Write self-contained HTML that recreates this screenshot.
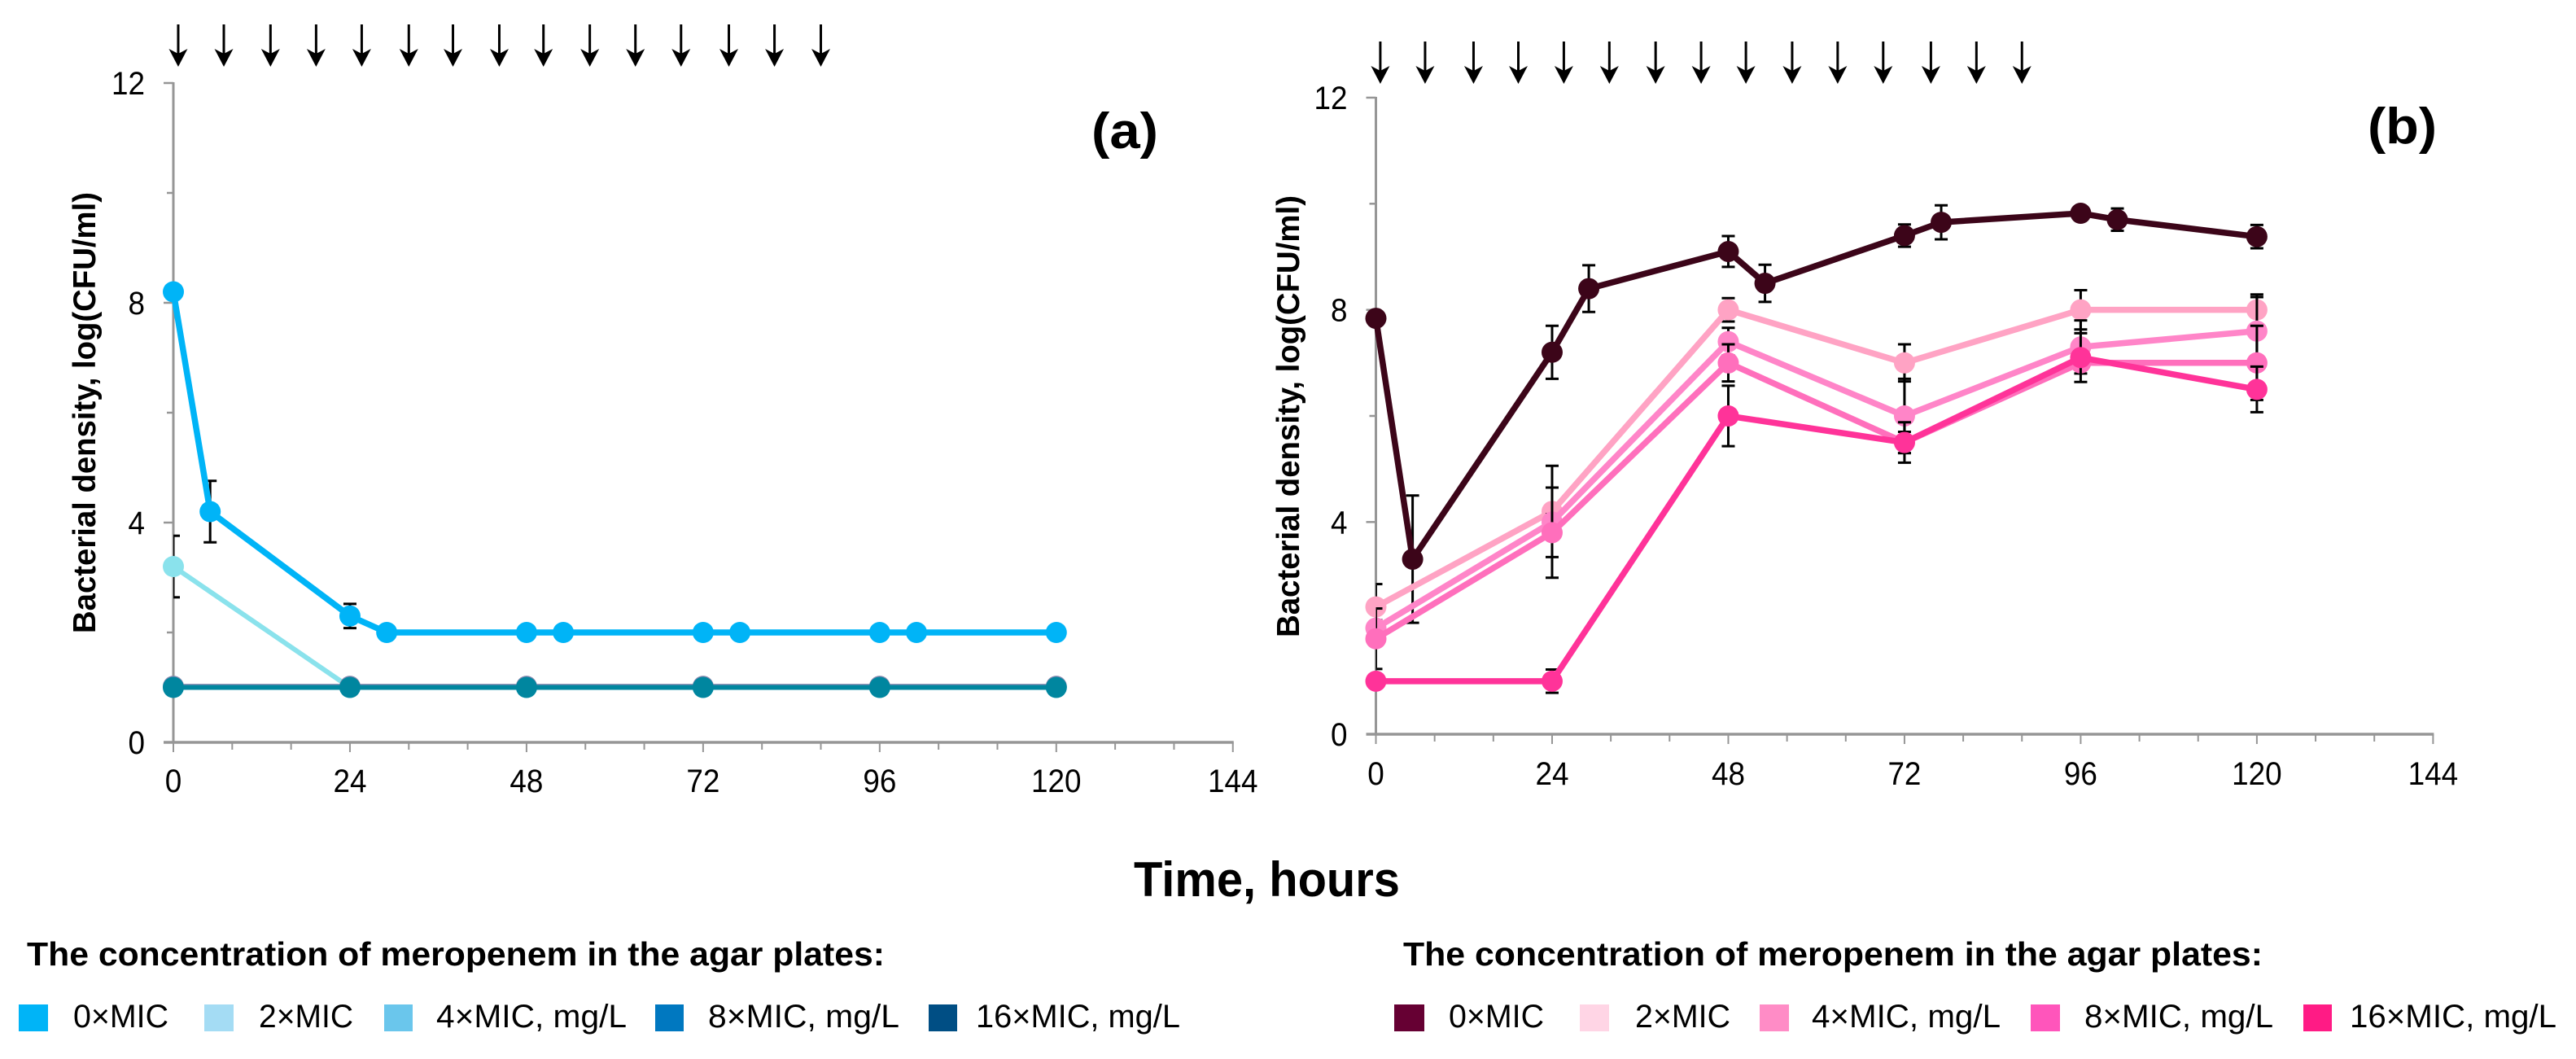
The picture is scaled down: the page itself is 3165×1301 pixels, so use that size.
<!DOCTYPE html>
<html lang="en">
<head>
<meta charset="utf-8">
<title>Bacterial density over time</title>
<style>
html,body{margin:0;padding:0;background:#fff;}
svg{display:block;}
text{font-family:"Liberation Sans",sans-serif;fill:#000;}
.b{font-weight:bold;}
</style>
</head>
<body>
<svg id="figure" xmlns="http://www.w3.org/2000/svg" width="3165" height="1301" viewBox="0 0 3165 1301">
  <rect width="3165" height="1301" fill="#fff"/>
  <g id="panel-a"></g>
  <g id="panel-b"></g>

  <text class="b" x="1341" y="182" font-size="62" textLength="82" lengthAdjust="spacingAndGlyphs">(a)</text>
  <text class="b" x="2909" y="176" font-size="62" textLength="85" lengthAdjust="spacingAndGlyphs">(b)</text>

  <text class="b" transform="translate(117,507) rotate(-90)" text-anchor="middle" font-size="39" textLength="542" lengthAdjust="spacingAndGlyphs">Bacterial density, log(CFU/ml)</text>
  <text class="b" transform="translate(1596,511.5) rotate(-90)" text-anchor="middle" font-size="39" textLength="543" lengthAdjust="spacingAndGlyphs">Bacterial density, log(CFU/ml)</text>

  <text class="b" x="1393" y="1101" font-size="60" textLength="327" lengthAdjust="spacingAndGlyphs">Time, hours</text>

  <g>
    <text class="b" x="33" y="1186" font-size="41" textLength="1054" lengthAdjust="spacingAndGlyphs">The concentration of meropenem in the agar plates:</text>
    <rect x="23" y="1234" width="36" height="33" fill="#00b4f7"/>
    <text x="90" y="1262" font-size="40" textLength="117" lengthAdjust="spacingAndGlyphs">0×MIC</text>
    <rect x="251" y="1234" width="36" height="33" fill="#a4dcf4"/>
    <text x="318" y="1262" font-size="40" textLength="116" lengthAdjust="spacingAndGlyphs">2×MIC</text>
    <rect x="472" y="1234" width="35" height="33" fill="#6ac6ec"/>
    <text x="536" y="1262" font-size="40" textLength="234" lengthAdjust="spacingAndGlyphs">4×MIC, mg/L</text>
    <rect x="805" y="1234" width="35" height="33" fill="#0078c0"/>
    <text x="870" y="1262" font-size="40" textLength="235" lengthAdjust="spacingAndGlyphs">8×MIC, mg/L</text>
    <rect x="1141" y="1234" width="35" height="33" fill="#004e84"/>
    <text x="1199" y="1262" font-size="40" textLength="251" lengthAdjust="spacingAndGlyphs">16×MIC, mg/L</text>
  </g>

  <g>
    <text class="b" x="1724" y="1186" font-size="41" textLength="1056" lengthAdjust="spacingAndGlyphs">The concentration of meropenem in the agar plates:</text>
    <rect x="1713" y="1234" width="37" height="33" fill="#660033"/>
    <text x="1780" y="1262" font-size="40" textLength="117" lengthAdjust="spacingAndGlyphs">0×MIC</text>
    <rect x="1941" y="1234" width="36" height="33" fill="#ffd5e5"/>
    <text x="2009" y="1262" font-size="40" textLength="117" lengthAdjust="spacingAndGlyphs">2×MIC</text>
    <rect x="2162" y="1234" width="36" height="33" fill="#ff8cc6"/>
    <text x="2226" y="1262" font-size="40" textLength="232" lengthAdjust="spacingAndGlyphs">4×MIC, mg/L</text>
    <rect x="2495" y="1234" width="36" height="33" fill="#ff55bb"/>
    <text x="2561" y="1262" font-size="40" textLength="232" lengthAdjust="spacingAndGlyphs">8×MIC, mg/L</text>
    <rect x="2830" y="1234" width="35" height="33" fill="#ff1b85"/>
    <text x="2887" y="1262" font-size="40" textLength="254" lengthAdjust="spacingAndGlyphs">16×MIC, mg/L</text>
  </g>
</svg>

<script>
// ---- Shared axis data ----
const yTickValues = [0, 2, 4, 6, 8, 10, 12];
const yTickLabels = ["0", "", "4", "", "8", "", "12"];
const xTickValues = [0, 8, 16, 24, 32, 40, 48, 56, 64, 72, 80, 88, 96, 104, 112, 120, 128, 136, 144];
const xTickLabels = ["0", "", "", "24", "", "", "48", "", "", "72", "", "", "96", "", "", "120", "", "", "144"];

// ---- Time points (hours) ----
const hoursFull = [0, 5, 24, 29, 48, 53, 72, 77, 96, 101, 120];
const hoursDaily = [0, 24, 48, 72, 96, 120];

// ---- Dosing arrows (hours) ----
const arrowHoursA = [0.66, 6.86, 13.2, 19.4, 25.6, 32, 38, 44.3, 50.3, 56.6, 62.8, 69, 75.5, 81.7, 88];
const arrowHoursB = [0.6, 6.7, 13.3, 19.4, 25.6, 31.8, 38.1, 44.3, 50.4, 56.7, 62.9, 69.1, 75.6, 81.8, 88];

// ---- Panel (a) series ----
const a0xValues = [8.2, 4.2, 2.3, 2, 2, 2, 2, 2, 2, 2, 2];
const a0xErrors = [0.1, 0.56, 0.22, 0, 0, 0, 0, 0, 0, 0, 0];
const a2xValues = [3.2, 1, 1, 1, 1, 1];
const a2xErrors = [0.56, 0, 0, 0, 0, 0];
const a8xValues = [1.02, 1.02, 1.02, 1.02, 1.02, 1.02];
const a8xErrors = [0, 0, 0, 0, 0, 0];
const a16xValues = [1, 1, 1, 1, 1, 1];
const a16xErrors = [0, 0, 0, 0, 0, 0];

// ---- Panel (b) series ----
const b0xValues = [7.84, 3.3, 7.2, 8.4, 9.1, 8.5, 9.4, 9.65, 9.82, 9.7, 9.38];
const b0xErrors = [0.1, 1.2, 0.5, 0.44, 0.29, 0.35, 0.21, 0.32, 0.12, 0.21, 0.22];
const b2xValues = [2.4, 4.2, 8, 7, 8, 8];
const b2xErrors = [0.43, 0.86, 0.22, 0.35, 0.37, 0.29];
const b4xValues = [2, 4, 7.4, 6, 7.3, 7.6];
const b4xErrors = [0.15, 0.15, 0.26, 0.7, 0.5, 0.64];
const b8xValues = [1.8, 3.8, 7, 5.5, 7, 7];
const b8xErrors = [0.57, 0.85, 0.35, 0.2, 0.1, 0.7];
const b16xValues = [1, 1, 6, 5.5, 7.1, 6.5];
const b16xErrors = [0.1, 0.22, 0.57, 0.38, 0.46, 0.43];

const SVGNS = "http://www.w3.org/2000/svg";

function mk(parent, tag, attrs, name) {
  const el = document.createElementNS(SVGNS, tag);
  for (const k in attrs) el.setAttribute(k, attrs[k]);
  
  
  parent.appendChild(el);
  return el;
}

function drawPanel(cfg) {
  const root = document.getElementById(cfg.id);
  const xScale = h => cfg.x0 + h * cfg.xPerHour;
  const yScale = v => cfg.y0 - v * cfg.yPerUnit;
  const axisColor = "#969696";
  const digitWidth = 20.5;

  // axes
  const axes = mk(root, "g", {}, cfg.prefix + "-axes");
  mk(axes, "line", {x1: cfg.x0, x2: cfg.x0, y1: yScale(12) - 1, y2: cfg.y0, stroke: axisColor, "stroke-width": 3}, cfg.prefix + "-y-axis-line");
  mk(axes, "line", {x1: cfg.x0 - 12, x2: xScale(144) + 1, y1: cfg.y0, y2: cfg.y0, stroke: axisColor, "stroke-width": 3.5}, cfg.prefix + "-x-axis-line");

  yTickValues.forEach((v, i) => {
    const major = yTickLabels[i] !== "";
    const len = major ? 12 : 8;
    if (v !== 0) {
      mk(axes, "line", {x1: cfg.x0 - len, x2: cfg.x0, y1: yScale(v), y2: yScale(v), stroke: axisColor, "stroke-width": 2.5}, cfg.prefix + "-y-tick");
    }
    if (major) {
      const t = mk(axes, "text", {x: cfg.x0 - 35, y: yScale(v) + 14, "text-anchor": "end", "font-size": 40, textLength: digitWidth * yTickLabels[i].length, lengthAdjust: "spacingAndGlyphs"}, cfg.prefix + "-y-tick-label");
      t.textContent = yTickLabels[i];
    }
  });

  xTickValues.forEach((h, i) => {
    const major = xTickLabels[i] !== "";
    mk(axes, "line", {x1: xScale(h), x2: xScale(h), y1: cfg.y0, y2: cfg.y0 + (major ? 12 : 9), stroke: axisColor, "stroke-width": 2}, cfg.prefix + "-x-tick");
    if (major) {
      const t = mk(axes, "text", {x: xScale(h), y: cfg.xLabelY, "text-anchor": "middle", "font-size": 40, textLength: digitWidth * xTickLabels[i].length, lengthAdjust: "spacingAndGlyphs"}, cfg.prefix + "-x-tick-label");
      t.textContent = xTickLabels[i];
    }
  });

  // dosing arrows
  const arrows = mk(root, "g", {}, cfg.prefix + "-dosing-arrows");
  cfg.arrows.forEach(h => {
    const x = xScale(h);
    const top = cfg.arrowTop;
    const tip = top + 52;
    const a = mk(arrows, "g", {}, cfg.prefix + "-dosing-arrow");
    mk(a, "line", {x1: x, x2: x, y1: top, y2: tip - 14, stroke: "#000", "stroke-width": 3}, "arrow-shaft");
    mk(a, "path", {d: "M" + x + " " + tip + "L" + (x - 11.5) + " " + (tip - 22) + "L" + x + " " + (tip - 16) + "L" + (x + 11.5) + " " + (tip - 22) + "Z", fill: "#000"}, "arrow-head");
  });

  // clip so error bars at t=0 only show right of the axis
  const clipId = cfg.prefix + "-clip";
  const defs = mk(root, "defs", {}, cfg.prefix + "-defs");
  const clip = mk(defs, "clipPath", {id: clipId}, cfg.prefix + "-clip-path");
  mk(clip, "rect", {x: cfg.x0, y: 0, width: 1500, height: 1000}, cfg.prefix + "-clip-rect");

  // series
  cfg.series.forEach(s => {
    const g = mk(root, "g", {}, cfg.prefix + "-series-" + s.key);
    const errG = mk(g, "g", {"clip-path": "url(#" + clipId + ")"}, cfg.prefix + "-error-bars-" + s.key);
    s.hours.forEach((h, i) => {
      const e = s.errors[i];
      if (!e) return;
      const x = xScale(h);
      const yt = yScale(s.values[i] + e);
      const yb = yScale(s.values[i] - e);
      mk(errG, "line", {x1: x, x2: x, y1: yt, y2: yb, stroke: "#000", "stroke-width": 3}, "error-bar");
      mk(errG, "line", {x1: x - 8, x2: x + 8, y1: yt, y2: yt, stroke: "#000", "stroke-width": 3}, "error-cap-top");
      mk(errG, "line", {x1: x - 8, x2: x + 8, y1: yb, y2: yb, stroke: "#000", "stroke-width": 3}, "error-cap-bottom");
    });
    const pts = s.hours.map((h, i) => xScale(h) + "," + yScale(s.values[i])).join(" ");
    mk(g, "polyline", {points: pts, fill: "none", stroke: s.color, "stroke-width": s.width, "stroke-linejoin": "round"}, cfg.prefix + "-line-" + s.key);
    s.hours.forEach((h, i) => {
      mk(g, "circle", {cx: xScale(h), cy: yScale(s.values[i]), r: 13, fill: s.color}, cfg.prefix + "-point-" + s.key);
    });
  });
}

drawPanel({
  id: "panel-a", prefix: "panel-a",
  x0: 213, xPerHour: 9.04, y0: 912, yPerUnit: 67.5, xLabelY: 973,
  arrowTop: 30, arrows: arrowHoursA,
  series: [
    {key: "2xmic", hours: hoursDaily, values: a2xValues, errors: a2xErrors, color: "#8ae2ec", width: 6},
    {key: "0xmic", hours: hoursFull, values: a0xValues, errors: a0xErrors, color: "#00b4f7", width: 7.5},
    {key: "8xmic", hours: hoursDaily, values: a8xValues, errors: a8xErrors, color: "#8a8ab0", width: 6},
    {key: "16xmic", hours: hoursDaily, values: a16xValues, errors: a16xErrors, color: "#00869f", width: 6}
  ]
});

drawPanel({
  id: "panel-b", prefix: "panel-b",
  x0: 1690.5, xPerHour: 9.02, y0: 902, yPerUnit: 65.17, xLabelY: 964,
  arrowTop: 51, arrows: arrowHoursB,
  series: [
    {key: "0xmic", hours: hoursFull, values: b0xValues, errors: b0xErrors, color: "#3c0519", width: 7.5},
    {key: "2xmic", hours: hoursDaily, values: b2xValues, errors: b2xErrors, color: "#ffa3c4", width: 7.5},
    {key: "4xmic", hours: hoursDaily, values: b4xValues, errors: b4xErrors, color: "#ff85c8", width: 7.5},
    {key: "8xmic", hours: hoursDaily, values: b8xValues, errors: b8xErrors, color: "#ff6fbc", width: 7.5},
    {key: "16xmic", hours: hoursDaily, values: b16xValues, errors: b16xErrors, color: "#ff3399", width: 7.5}
  ]
});
</script>
</body>
</html>
